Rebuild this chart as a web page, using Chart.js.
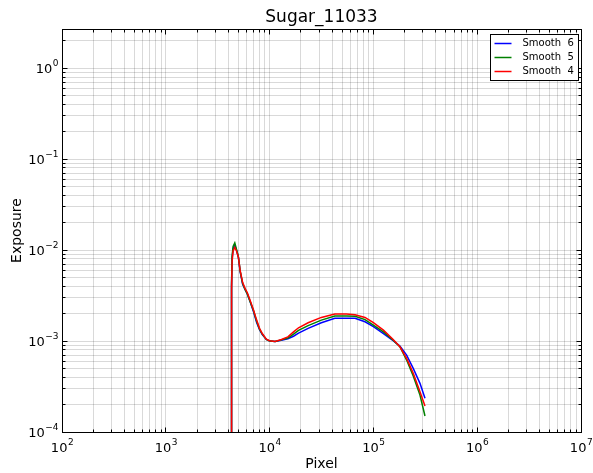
<!DOCTYPE html>
<html>
<head>
<meta charset="utf-8">
<script src="https://cdn.jsdelivr.net/npm/chart.js@4/dist/chart.umd.min.js"></script>
<style>
  html, body { margin: 0; padding: 0; background: #fff; }
  #wrap { width: 593px; height: 473px; }
</style>
</head>
<body>
<div id="wrap"><canvas id="c" width="593" height="473"></canvas></div>
<script>
// data
var pixels = [4250, 4300, 4350, 4450, 4620, 4800, 5000, 5200, 5500, 5800, 6100, 6500, 7000, 7500,
              8000, 8500, 9300, 10000, 11300, 13000, 15000, 17000, 19000, 23500, 31500, 42500,
              55000, 66500, 83000, 100000, 125000, 155000, 180000, 209000, 242000, 281000, 314000];

var smooth6 = [1e-6, 0.0040, 0.0080, 0.0104, 0.0113, 0.0100, 0.0084, 0.0058, 0.0042, 0.0037, 0.0033,
               0.0027, 0.0021, 0.0016, 0.00133, 0.00118, 0.00104, 0.00100, 0.00099, 0.00102, 0.00106,
               0.00113, 0.00122, 0.00138, 0.00159, 0.00178, 0.00178, 0.00178, 0.00163, 0.00144, 0.00121,
               0.00101, 0.00088, 0.00070, 0.00050, 0.000343, 0.000235];
var smooth5 = [1e-6, 0.0042, 0.0085, 0.0110, 0.0120, 0.0102, 0.0085, 0.0059, 0.0043, 0.0037, 0.0033,
               0.0027, 0.00215, 0.00165, 0.00135, 0.00119, 0.00104, 0.00100, 0.00099, 0.00103, 0.00108,
               0.00119, 0.00131, 0.00148, 0.00170, 0.00188, 0.00188, 0.00187, 0.00172, 0.00150, 0.00126,
               0.00102, 0.000865, 0.000618, 0.000412, 0.000255, 0.00015];
var smooth4 = [1e-6, 0.0036, 0.0074, 0.0098, 0.0107, 0.0098, 0.0084, 0.0060, 0.0044, 0.0038, 0.0034,
               0.0028, 0.0022, 0.0017, 0.00138, 0.00121, 0.00105, 0.00101, 0.00099, 0.00104, 0.00111,
               0.00126, 0.00140, 0.00159, 0.00182, 0.00198, 0.00198, 0.00195, 0.00182, 0.00159, 0.00132,
               0.00104, 0.000865, 0.000645, 0.000442, 0.000277, 0.000193];

var seriesNames = ['Smooth  6', 'Smooth  5', 'Smooth  4'];
var seriesColors = ['#0000ff', '#008000', '#ff0000'];

var chartTitle = 'Sugar_11033';
var xDecades = [2, 3, 4, 5, 6, 7];
var yDecades = [-4, -3, -2, -1, 0];
var yTop = 2.7;

var FONT = "'DejaVu Sans', sans-serif";

function expText(e) {
    return String(e).replace('-', '\u2212');
}

function logTicks(decades, extraTop) {
    var ticks = [];
    for (var i = 0; i < decades.length; i++) {
        var base = Math.pow(10, decades[i]);
        ticks.push({value: base, major: true});
        if (i < decades.length - 1 || extraTop) {
            for (var m = 2; m <= 9; m++) {
                var v = m * base;
                if (extraTop && i == decades.length - 1 && v > extraTop) break;
                ticks.push({value: v, major: false});
            }
        }
    }
    return ticks;
}

var allSeries = [smooth6, smooth5, smooth4];
var datasets = allSeries.map(function(ys, i) {
    return {
        label: seriesNames[i],
        data: pixels.map(function(p, k) { return {x: p, y: ys[k]}; }),
        borderColor: seriesColors[i],
        backgroundColor: seriesColors[i],
        borderWidth: 1.5,
        pointRadius: 0,
        tension: 0,
        fill: false,
        order: allSeries.length - i   // red drawn last, on top
    };
});

function align(p) { return Math.round(p - 0.5) + 0.5; }

// frame, inward ticks, 10^n labels, title and legend, matplotlib style
var decoPlugin = {
    id: 'deco',
    afterDraw: function(chart) {
        var ctx = chart.ctx, a = chart.chartArea;
        var xs = chart.scales.x, ys = chart.scales.y;
        var L = align(a.left), R = align(a.right), T = align(a.top), B = align(a.bottom);
        ctx.save();

        // ticks on all four sides
        ctx.strokeStyle = '#000';
        ctx.lineWidth = 1;
        ctx.beginPath();
        xs.ticks.forEach(function(t) {
            var px = align(xs.getPixelForValue(t.value));
            var len = t.major ? 5 : 3;
            ctx.moveTo(px, B); ctx.lineTo(px, B - len);
            ctx.moveTo(px, T); ctx.lineTo(px, T + len);
        });
        ys.ticks.forEach(function(t) {
            if (t.value > yTop) return;
            var py = align(ys.getPixelForValue(t.value));
            var len = t.major ? 5 : 3;
            ctx.moveTo(L, py); ctx.lineTo(L + len, py);
            ctx.moveTo(R, py); ctx.lineTo(R - len, py);
        });
        ctx.stroke();

        // frame
        ctx.strokeRect(L, T, R - L, B - T);

        // tick labels 10^n
        ctx.fillStyle = '#000';
        ctx.textBaseline = 'alphabetic';
        ctx.textAlign = 'left';
        function label(e, x, baseline, anchor) {
            ctx.font = '13px ' + FONT;
            var w1 = ctx.measureText('10').width;
            ctx.font = '9px ' + FONT;
            var w2 = ctx.measureText(expText(e)).width;
            var x0 = anchor == 'center' ? x - (w1 + w2) / 2 : x - (w1 + w2);
            ctx.font = '13px ' + FONT;
            ctx.fillText('10', x0, baseline);
            ctx.font = '9px ' + FONT;
            ctx.fillText(expText(e), x0 + w1 + 0.5, baseline - 7);
        }
        xDecades.forEach(function(e) {
            label(e, xs.getPixelForValue(Math.pow(10, e)), a.bottom + 20, 'center');
        });
        yDecades.forEach(function(e) {
            label(e, a.left - 4, ys.getPixelForValue(Math.pow(10, e)) + 5, 'right');
        });

        // title
        ctx.font = '17px ' + FONT;
        ctx.textAlign = 'center';
        ctx.textBaseline = 'middle';
        ctx.fillText(chartTitle, (a.left + a.right) / 2, 18);

        // legend
        ctx.font = '10px ' + FONT;
        var textW = 0;
        seriesNames.forEach(function(n) { textW = Math.max(textW, ctx.measureText(n).width); });
        var w = Math.round(32 + textW + 5);
        var h = 46;
        var right = R - 3, top = T + 5;
        var left = right - w;
        ctx.fillStyle = '#fff';
        ctx.fillRect(left, top, w, h);
        ctx.strokeStyle = '#000';
        ctx.lineWidth = 1;
        ctx.strokeRect(left, top, w, h);
        ctx.textAlign = 'left';
        ctx.textBaseline = 'middle';
        for (var i = 0; i < seriesNames.length; i++) {
            var y = top + 9 + i * 14;
            ctx.strokeStyle = seriesColors[i];
            ctx.lineWidth = 1.5;
            ctx.beginPath();
            ctx.moveTo(left + 4, y);
            ctx.lineTo(left + 21, y);
            ctx.stroke();
            ctx.fillStyle = '#000';
            ctx.fillText(seriesNames[i], left + 32, y);
        }
        ctx.restore();
    }
};

var gridColor = 'rgba(0,0,0,0.15)';

var ctx = document.getElementById('c').getContext('2d');
var chart = new Chart(ctx, {
    type: 'line',
    data: {datasets: datasets},
    plugins: [decoPlugin],
    options: {
        responsive: false,
        animation: false,
        layout: {padding: {left: 0, right: 12, top: 29, bottom: 0}},
        plugins: {
            legend: {display: false},
            tooltip: {enabled: false},
            title: {display: false}
        },
        scales: {
            x: {
                type: 'logarithmic',
                min: Math.pow(10, xDecades[0]),
                max: Math.pow(10, xDecades[xDecades.length - 1]),
                afterBuildTicks: function(scale) { scale.ticks = logTicks(xDecades); },
                afterFit: function(scale) {
                    scale.height = 41;
                    scale.paddingLeft = 0;
                    scale.paddingRight = 0;
                },
                grid: {color: gridColor, drawTicks: false},
                border: {display: false},
                ticks: {autoSkip: false, maxRotation: 0, callback: function() { return ''; }},
                title: {
                    display: true, text: 'Pixel', color: '#000',
                    font: {family: FONT, size: 14}, padding: {top: 0, bottom: 0}
                }
            },
            y: {
                type: 'logarithmic',
                min: Math.pow(10, yDecades[0]),
                max: yTop,
                afterBuildTicks: function(scale) { scale.ticks = logTicks(yDecades, yTop); },
                afterFit: function(scale) {
                    scale.width = 62;
                    scale.paddingTop = 0;
                    scale.paddingBottom = 0;
                },
                grid: {color: gridColor, drawTicks: false},
                border: {display: false},
                ticks: {autoSkip: false, callback: function() { return ''; }},
                title: {
                    display: true, text: 'Exposure', color: '#000',
                    font: {family: FONT, size: 14}, padding: {top: 9, bottom: 0}
                }
            }
        }
    }
});
</script>
</body>
</html>
